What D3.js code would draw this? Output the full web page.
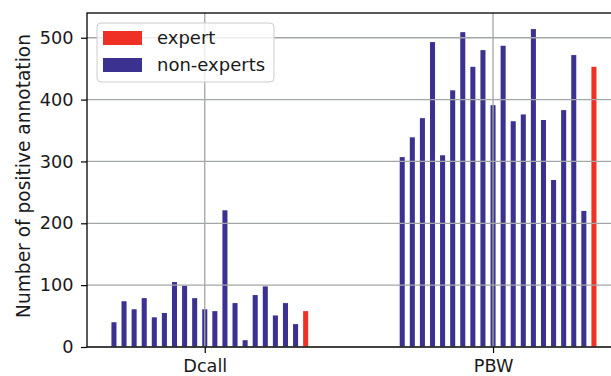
<!DOCTYPE html>
<html>
<head>
<meta charset="utf-8">
<script src="https://cdn.jsdelivr.net/npm/d3@7"></script>
<style>
  html, body { margin: 0; padding: 0; background: #fff; }
  svg { display: block; }
  text { font-family: "DejaVu Sans", sans-serif; fill: #1a1a1a; }
</style>
</head>
<body>
<svg id="chart" width="611" height="376"></svg>
<script>
const categories = ["Dcall", "PBW"];
const dcallNonExperts = [40, 74, 61, 79, 48, 55, 105, 99, 79, 61, 58, 221, 71, 11, 84, 98, 51, 71, 37];
const dcallExpert = 58;
const pbwNonExperts = [307, 339, 370, 493, 310, 415, 509, 453, 480, 391, 487, 365, 376, 514, 367, 270, 383, 472, 220];
const pbwExpert = 453;
const yTicks = [0, 100, 200, 300, 400, 500];
const seriesNames = ["expert", "non-experts"];
const colors = { "expert": "#ee3124", "non-experts": "#3b3190" };

const svg = d3.select("#chart");
const margin = { left: 87, top: 13, bottom: 347, right: 620.6 };

// build bar table
const slot = 0.035, barW = 0.0175;
const bars = [];
[dcallNonExperts, pbwNonExperts].forEach((arr, c) => {
  arr.forEach((v, j) => bars.push({ cat: c, j, value: v, series: "non-experts" }));
});
[dcallExpert, pbwExpert].forEach((v, c) => bars.push({ cat: c, j: 19, value: v, series: "expert" }));
bars.forEach(b => b.pos = b.cat + (b.j - 9) * slot);

const x = d3.scaleLinear().domain([-0.4085, 1.4425]).range([margin.left, margin.right]);
const y = d3.scaleLinear().domain([0, 540]).range([margin.bottom, margin.top]);

// bars
svg.append("g").selectAll("rect").data(bars).join("rect")
  .attr("x", d => x(d.pos - barW / 2))
  .attr("width", d => x(d.pos + barW / 2) - x(d.pos - barW / 2))
  .attr("y", d => y(d.value))
  .attr("height", d => y(0) - y(d.value))
  .attr("fill", d => colors[d.series]);

// grid (drawn on top of bars)
const grid = svg.append("g").attr("stroke", "#a3a6a6").attr("stroke-width", 1.3);
grid.selectAll(".gy").data(yTicks).join("line")
  .attr("x1", margin.left).attr("x2", margin.right)
  .attr("y1", d => y(d)).attr("y2", d => y(d));
grid.selectAll(".gx").data(categories).join("line")
  .attr("x1", (d, i) => x(i)).attr("x2", (d, i) => x(i))
  .attr("y1", margin.top).attr("y2", margin.bottom);

// axes
const yAxis = svg.append("g").attr("transform", `translate(${margin.left},0)`)
  .call(d3.axisLeft(y).tickValues(yTicks).tickSize(6).tickPadding(7.5));
const xAxis = svg.append("g").attr("transform", `translate(0,${margin.bottom})`)
  .call(d3.axisBottom(x).tickValues([0, 1]).tickFormat((d, i) => categories[i]).tickSize(6).tickPadding(6.6));
[yAxis, xAxis].forEach(a => {
  a.select(".domain").remove();
  a.selectAll("line").attr("stroke", "#000").attr("stroke-width", 1.2);
  a.selectAll("text").attr("font-size", 17.7).attr("fill", "#1a1a1a").attr("font-family", "DejaVu Sans");
});

// spines
const sp = svg.append("g").attr("stroke", "#000").attr("stroke-width", 1.3).attr("fill", "none");
sp.append("rect").attr("x", margin.left).attr("y", margin.top)
  .attr("width", margin.right - margin.left).attr("height", margin.bottom - margin.top);

// y label
svg.append("text")
  .attr("transform", `translate(29.5,176) rotate(-90)`)
  .attr("text-anchor", "middle").attr("font-size", 18.6)
  .text("Number of positive annotation");

// legend
const lg = svg.append("g").attr("transform", "translate(97,23)");
lg.append("rect").attr("width", 177).attr("height", 59).attr("rx", 4)
  .attr("fill", "#fff").attr("fill-opacity", 0.8).attr("stroke", "#cccccc").attr("stroke-width", 1);
seriesNames.forEach((s, i) => {
  lg.append("rect").attr("x", 6).attr("y", 8 + i * 27).attr("width", 39).attr("height", 14)
    .attr("fill", colors[s]);
  lg.append("text").attr("x", 60).attr("y", 21 + i * 27).attr("font-size", 18).text(s);
});
</script>
</body>
</html>
